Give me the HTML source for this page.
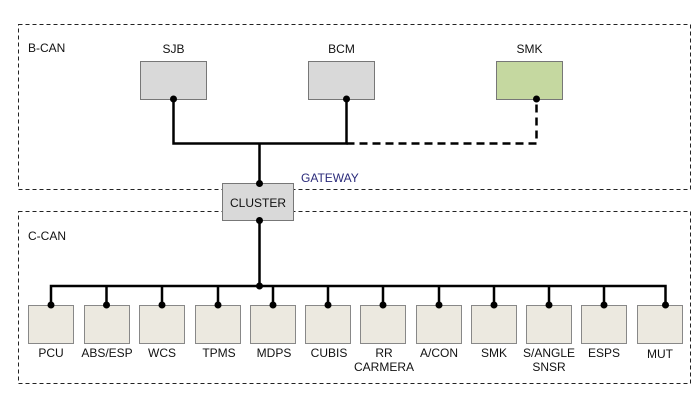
<!DOCTYPE html>
<html><head><meta charset="utf-8"><style>
html,body{margin:0;padding:0;background:#fff;}
svg{display:block;}
text{font-family:"Liberation Sans",Arial,sans-serif;font-size:12px;fill:#111;}
</style></head><body>
<svg width="700" height="413" viewBox="0 0 700 413" xmlns="http://www.w3.org/2000/svg">
<rect x="0" y="0" width="700" height="413" fill="#fff"/>
<!-- group boxes -->
<rect x="18.5" y="24.5" width="672" height="165" fill="none" stroke="#222" stroke-width="1" stroke-dasharray="4,3"/>
<rect x="18.5" y="211.5" width="672" height="172" fill="none" stroke="#222" stroke-width="1" stroke-dasharray="4,3"/>
<text x="28" y="52">B-CAN</text>
<text x="28" y="240">C-CAN</text>
<!-- top modules -->
<rect x="140.5" y="61.5" width="66" height="38" fill="#d9d9d9" stroke="#777"/>
<rect x="308.5" y="61.5" width="66" height="38" fill="#d9d9d9" stroke="#777"/>
<rect x="496.5" y="61.5" width="66" height="38" fill="#c5d8a0" stroke="#777"/>
<text x="173.5" y="53" text-anchor="middle">SJB</text>
<text x="341.5" y="53" text-anchor="middle">BCM</text>
<text x="529.5" y="53" text-anchor="middle">SMK</text>
<path d="M173.5 99 V143.5 H346.5 V99" fill="none" stroke="#000" stroke-width="2.5"/>
<path d="M346.5 143.5 H536.5 V99" fill="none" stroke="#000" stroke-width="2.5" stroke-dasharray="8,5"/>
<path d="M259.5 143.5 V183" stroke="#000" stroke-width="2.5"/>
<circle cx="173.5" cy="99" r="3.5"/>
<circle cx="346.5" cy="99" r="3.5"/>
<circle cx="536.5" cy="99" r="3.5"/>
<!-- cluster -->
<rect x="222.5" y="183.5" width="71" height="37" fill="#d9d9d9" stroke="#777"/>
<text x="258" y="207" text-anchor="middle">CLUSTER</text>
<text x="301" y="182" style="fill:#2a2a7a">GATEWAY</text>
<circle cx="259.5" cy="183.5" r="3.5"/>
<circle cx="259.5" cy="220.5" r="3.5"/>
<path d="M259.5 220 V286 M51 305 V286 H665.5 V305" fill="none" stroke="#000" stroke-width="2.5"/>
<g fill="#ece9e0" stroke="#888">
<rect x="28.5" y="305.5" width="45" height="38"/>
<rect x="84.5" y="305.5" width="45" height="38"/>
<rect x="139.5" y="305.5" width="45" height="38"/>
<rect x="195.5" y="305.5" width="45" height="38"/>
<rect x="250.5" y="305.5" width="45" height="38"/>
<rect x="305.5" y="305.5" width="45" height="38"/>
<rect x="360.5" y="305.5" width="45" height="38"/>
<rect x="416.5" y="305.5" width="45" height="38"/>
<rect x="471.5" y="305.5" width="45" height="38"/>
<rect x="526.5" y="305.5" width="45" height="38"/>
<rect x="581.5" y="305.5" width="45" height="38"/>
<rect x="637.5" y="305.5" width="45" height="38"/>
</g>
<g stroke="#000" stroke-width="2.5">
<path d="M106.5 286V305 M162 286V305 M218 286V305 M273 286V305 M328 286V305 M383 286V305 M439 286V305 M494 286V305 M549 286V305 M604 286V305"/>
</g>
<g>
<circle cx="51" cy="305" r="3.5"/><circle cx="106.5" cy="305" r="3.5"/><circle cx="162" cy="305" r="3.5"/>
<circle cx="218" cy="305" r="3.5"/><circle cx="273" cy="305" r="3.5"/><circle cx="328" cy="305" r="3.5"/>
<circle cx="383" cy="305" r="3.5"/><circle cx="439" cy="305" r="3.5"/><circle cx="494" cy="305" r="3.5"/>
<circle cx="549" cy="305" r="3.5"/><circle cx="604" cy="305" r="3.5"/><circle cx="665.5" cy="305" r="3.5"/>
<circle cx="259.5" cy="286" r="3.5"/>
</g>
<g text-anchor="middle">
<text x="51" y="357">PCU</text>
<text x="107" y="357">ABS/ESP</text>
<text x="162" y="357">WCS</text>
<text x="219" y="357">TPMS</text>
<text x="274" y="357">MDPS</text>
<text x="329" y="357">CUBIS</text>
<text x="384" y="357">RR</text>
<text x="384" y="371">CARMERA</text>
<text x="439" y="357">A/CON</text>
<text x="494" y="357">SMK</text>
<text x="549" y="357">S/ANGLE</text>
<text x="549" y="371">SNSR</text>
<text x="604" y="357">ESPS</text>
<text x="660" y="358">MUT</text>
</g>
</svg>
</body></html>
